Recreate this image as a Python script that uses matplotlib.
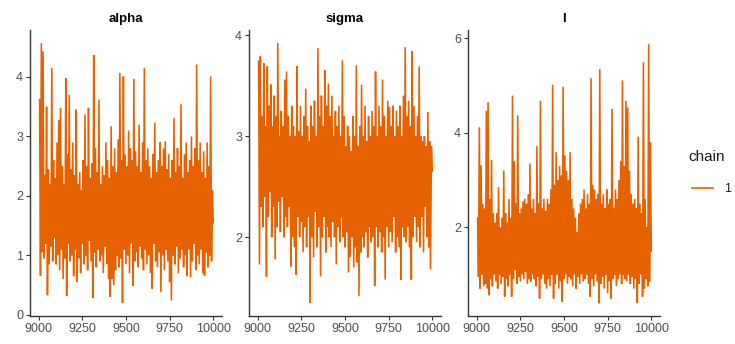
import numpy as np
import matplotlib
matplotlib.use("Agg")
import matplotlib.pyplot as plt
from matplotlib.lines import Line2D

plt.rcParams['font.family'] = ['Liberation Sans', 'DejaVu Sans']

params = ["alpha", "sigma", "l"]
iterations = np.arange(9005, 10001, 5)

alpha = [
    3.62, 0.66, 4.57, 1.05, 4.43, 0.95, 2.35, 1.2, 3.50, 0.33,
    2.45, 0.85, 2.2, 1.15, 4.15, 0.9, 2.6, 1.3, 2.3, 0.85,
    2.9, 1.0, 3.28, 0.75, 3.48, 1.1, 2.5, 0.6, 2.2, 0.95,
    3.98, 0.32, 2.7, 1.2, 3.70, 0.9, 2.45, 1.0, 2.9, 0.65,
    2.35, 1.1, 3.45, 0.55, 2.2, 0.95, 2.4, 0.7, 2.1, 1.2,
    2.6, 0.85, 3.37, 1.0, 2.5, 0.75, 3.48, 1.25, 2.3, 0.9,
    2.55, 0.28, 4.37, 1.05, 2.8, 0.8, 2.4, 1.1, 3.62, 0.9,
    2.2, 1.0, 2.5, 0.7, 2.35, 1.15, 2.9, 0.85, 2.6, 0.6,
    2.3, 0.30, 3.17, 0.6, 2.5, 0.5, 2.8, 0.75, 2.4, 1.0,
    2.95, 0.8, 4.07, 0.95, 2.6, 0.20, 4.01, 1.1, 2.7, 0.85,
    2.5, 1.0, 3.1, 0.7, 2.8, 1.2, 2.6, 0.49, 3.97, 0.9,
    2.75, 1.05, 2.5, 0.8, 3.2, 1.15, 2.4, 0.95, 2.9, 0.75,
    4.15, 1.1, 2.6, 0.85, 2.8, 1.0, 2.5, 0.7, 2.3, 0.44,
    2.7, 1.2, 3.23, 0.9, 2.4, 0.8, 2.6, 1.05, 2.9, 0.38,
    2.5, 1.0, 2.8, 0.75, 2.92, 1.1, 2.45, 0.9, 2.7, 0.55,
    2.3, 0.24, 2.6, 1.0, 3.31, 0.85, 2.4, 1.15, 2.8, 0.7,
    2.5, 0.95, 3.54, 1.1, 2.3, 0.8, 2.7, 1.0, 2.9, 0.65,
    2.4, 1.1, 2.6, 0.63, 3.0, 0.9, 2.5, 1.2, 2.8, 0.75,
    4.21, 1.0, 2.6, 0.85, 2.9, 1.1, 2.4, 0.7, 2.75, 0.66,
    2.3, 1.05, 2.9, 0.8, 2.5, 1.0, 4.01, 0.9, 2.1, 1.55,
]

sigma = [
    3.74, 1.73, 3.79, 2.3, 3.2, 2.1, 3.72, 2.4, 3.1, 1.61,
    3.69, 2.2, 3.3, 2.45, 3.51, 2.0, 3.1, 2.3, 3.4, 1.78,
    3.2, 2.1, 3.92, 2.35, 3.0, 2.05, 3.25, 2.4, 3.1, 2.0,
    3.56, 2.2, 3.64, 2.1, 3.2, 2.3, 3.0, 1.71, 3.3, 2.0,
    3.1, 1.9, 3.0, 1.63, 3.69, 2.2, 3.05, 2.0, 3.3, 2.15,
    3.0, 1.85, 3.2, 2.1, 3.47, 1.9, 3.1, 2.2, 2.95, 1.35,
    3.3, 2.0, 3.1, 1.8, 3.35, 2.25, 3.0, 1.9, 3.87, 2.1,
    3.2, 1.61, 3.4, 2.0, 3.1, 2.2, 3.65, 1.85, 3.3, 2.1,
    3.52, 2.0, 3.2, 1.9, 3.4, 2.15, 3.0, 2.0, 3.25, 1.73,
    3.1, 2.1, 3.3, 1.95, 3.0, 2.2, 3.75, 2.0, 3.2, 1.9,
    2.9, 2.05, 3.1, 1.65, 3.0, 1.8, 2.85, 2.0, 3.2, 1.7,
    3.0, 1.9, 3.70, 1.75, 2.9, 1.42, 3.1, 1.85, 3.51, 2.0,
    3.0, 1.9, 3.3, 2.05, 2.95, 1.8, 3.2, 2.1, 3.0, 1.95,
    3.25, 2.0, 3.1, 1.52, 3.64, 2.1, 3.0, 1.9, 3.3, 2.05,
    3.1, 1.85, 3.56, 2.0, 3.2, 1.58, 3.0, 2.1, 3.35, 1.9,
    3.29, 2.05, 3.1, 1.95, 3.3, 2.2, 3.0, 1.85, 3.25, 2.0,
    3.1, 1.9, 3.3, 1.58, 3.0, 2.1, 3.4, 2.0, 3.88, 1.95,
    3.2, 2.1, 3.35, 1.9, 3.1, 1.58, 3.84, 2.0, 3.3, 2.2,
    3.0, 1.95, 3.2, 2.1, 3.69, 1.9, 3.0, 2.2, 2.95, 1.85,
    3.0, 2.3, 2.9, 2.0, 3.24, 1.9, 2.95, 1.68, 2.9, 2.65,
]

l = [
    2.2, 0.95, 4.12, 0.7, 3.31, 1.0, 2.5, 0.75, 2.4, 0.8,
    4.47, 0.7, 4.65, 0.56, 2.6, 0.9, 3.43, 0.75, 2.3, 1.0,
    2.1, 0.85, 2.3, 0.7, 2.85, 1.0, 2.0, 0.8, 2.2, 0.95,
    3.2, 0.53, 2.3, 0.9, 2.1, 0.75, 2.6, 1.0, 2.2, 0.53,
    4.79, 0.9, 3.4, 1.1, 2.5, 0.8, 4.37, 0.95, 2.3, 0.85,
    2.4, 1.0, 2.55, 0.9, 2.6, 1.05, 2.5, 0.8, 2.7, 0.9,
    3.35, 0.85, 2.4, 1.0, 2.6, 0.9, 2.3, 0.75, 3.72, 0.95,
    2.5, 0.49, 4.68, 0.9, 2.4, 1.0, 2.6, 0.8, 2.35, 0.7,
    2.6, 0.9, 2.5, 0.75, 2.8, 1.0, 5.02, 0.49, 2.9, 0.8,
    3.59, 1.0, 3.0, 0.7, 3.3, 0.85, 3.1, 0.42, 4.98, 0.9,
    3.52, 1.0, 3.2, 0.8, 3.0, 0.95, 3.59, 0.9, 2.6, 0.75,
    2.4, 1.0, 2.2, 0.7, 1.9, 0.95, 2.3, 0.8, 2.5, 1.0,
    2.6, 0.85, 2.8, 0.9, 2.4, 1.0, 2.7, 0.8, 2.5, 0.53,
    5.16, 0.9, 2.9, 0.75, 2.8, 1.0, 2.6, 0.85, 2.7, 0.39,
    5.35, 0.8, 2.5, 0.95, 2.7, 0.7, 2.4, 1.0, 2.8, 0.6,
    2.5, 0.85, 2.6, 0.49, 4.51, 0.9, 2.4, 1.0, 2.8, 0.75,
    2.6, 0.9, 3.0, 1.0, 3.4, 0.8, 5.11, 1.0, 3.3, 0.9,
    4.68, 0.85, 4.54, 1.0, 3.2, 0.8, 2.7, 0.95, 2.5, 0.7,
    2.6, 0.9, 2.4, 0.40, 3.92, 0.8, 2.5, 1.0, 2.3, 0.53,
    5.5, 0.7, 2.6, 0.9, 2.0, 0.75, 5.88, 0.85, 3.8, 1.5,
]

series = [alpha, sigma, l]
ylims = [(-0.02, 4.79), (1.22, 4.05), (0.12, 6.18)]
yticks = [[0, 1, 2, 3, 4], [2, 3, 4], [2, 4, 6]]
xticks = [9000, 9250, 9500, 9750, 10000]
color = "#E66100"

W, H = 735, 344
fig = plt.figure(figsize=(W / 100, H / 100), dpi=100)

lefts = [30, 249, 468]
width = 192
top, bottom = 30, 316

for i, (name, vals) in enumerate(zip(params, series)):
    ax = fig.add_axes([lefts[i] / W, 1 - bottom / H, width / W, (bottom - top) / H])
    ax.plot(iterations, vals, color=color, lw=1.15, solid_joinstyle='miter')
    ax.set_xlim(8950, 10050)
    ax.set_ylim(*ylims[i])
    ax.set_xticks(xticks)
    ax.set_yticks(yticks[i])
    ax.set_title(name, fontsize=9.5, fontweight='bold', color='black', pad=6)
    for s in ['top', 'right']:
        ax.spines[s].set_visible(False)
    for s in ['left', 'bottom']:
        ax.spines[s].set_color('#333333')
        ax.spines[s].set_linewidth(1.0)
    ax.tick_params(axis='both', labelsize=9, colors='#333333', labelcolor='#4D4D4D',
                   length=3, width=0.8, pad=2)

fig.text(688 / W, 1 - 157 / H, "chain", fontsize=11, color='#1A1A1A', va='center', ha='left')
fig.add_artist(Line2D([692 / W, 713 / W], [1 - 188 / H, 1 - 188 / H], color=color, lw=1.2))
fig.text(724 / W, 1 - 189 / H, "1", fontsize=9, color='#1A1A1A', va='center', ha='left')

fig.savefig("out.png", dpi=100)
